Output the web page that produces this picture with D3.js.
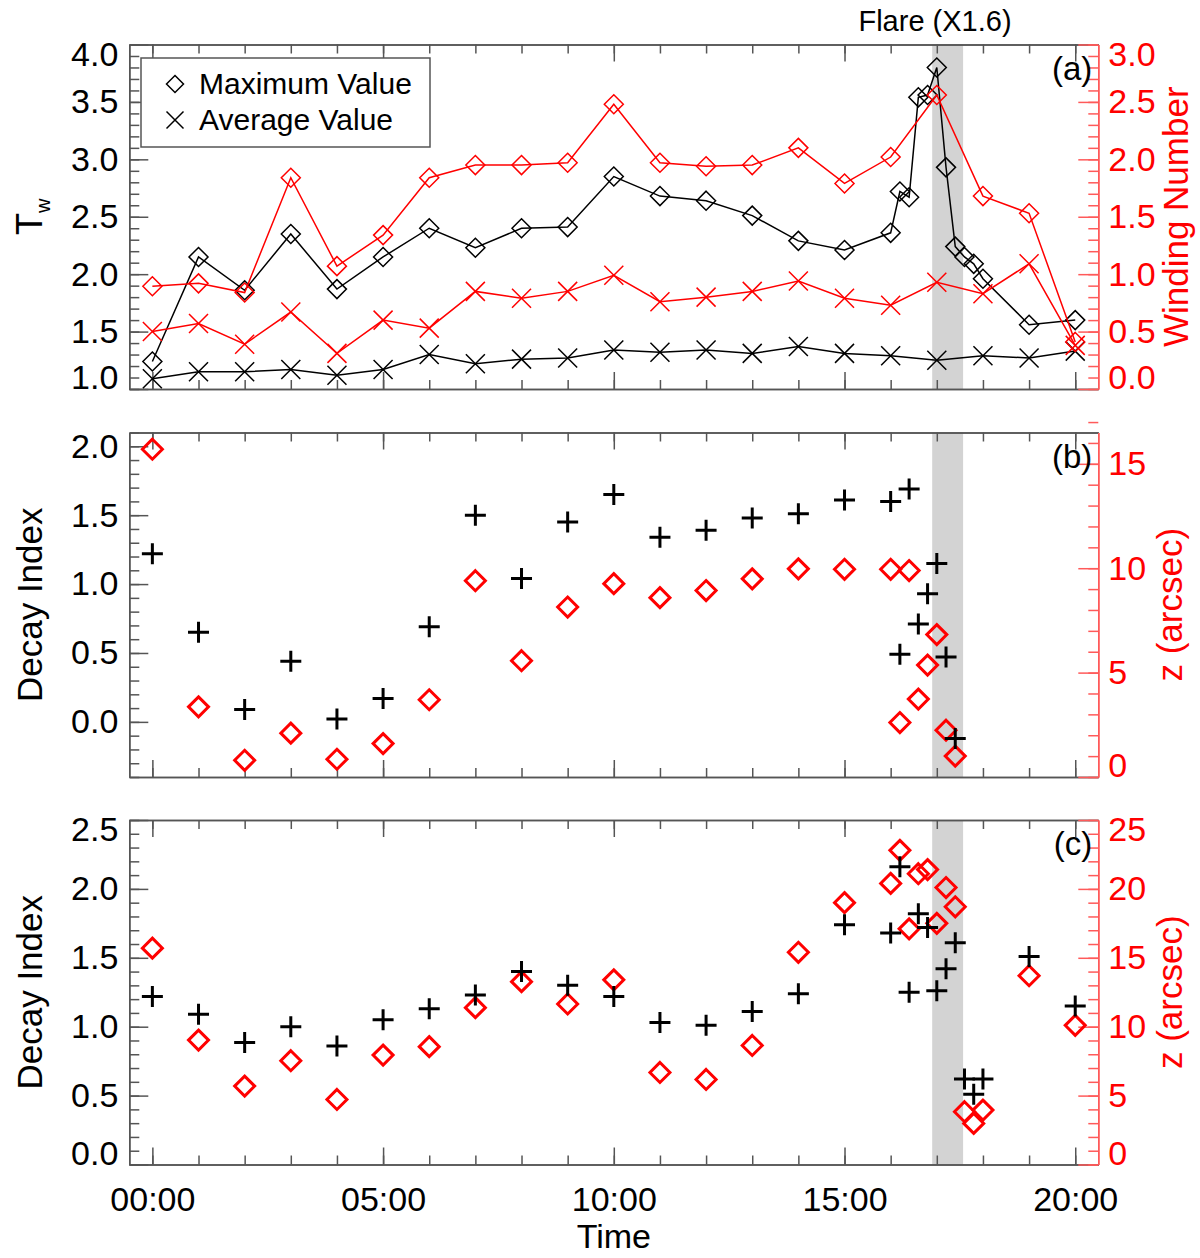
<!DOCTYPE html>
<html>
<head>
<meta charset="utf-8">
<script src="https://cdn.jsdelivr.net/npm/d3@7"></script>
<style>
  body { margin: 0; background: #fff; }
  svg text { font-family: "Liberation Sans", Arial, Helvetica, sans-serif; }
</style>
</head>
<body>
<script>
// ---- data ----
var hours = [0,1,2,3,4,5,6,7,8,9,10,11,12,13,14,15,16,17,18,19,20];

// (a) twist number (left) and winding number (right)
var twMaxTimes = [0,1,2,3,4,5,6,7,8,9,10,11,12,13,14,15,16,16.2,16.4,16.6,16.8,17,17.2,17.4,17.6,17.8,18,19,20];
var twMax = [1.24,2.15,1.86,2.35,1.87,2.15,2.40,2.23,2.40,2.41,2.85,2.68,2.64,2.51,2.29,2.21,2.36,
             2.72,2.67,3.54,3.56,3.80,2.93,2.24,2.15,2.09,1.96,1.56,1.60];
var twAvg = [1.09,1.15,1.15,1.17,1.12,1.17,1.30,1.22,1.26,1.27,1.34,1.32,1.34,1.31,1.37,1.31,1.29,1.25,1.29,1.27,1.33];
var windMax = [0.895,0.92,0.84,1.84,1.07,1.34,1.84,1.95,1.95,1.97,2.48,1.97,1.94,1.95,2.10,1.79,2.02,2.56,1.68,1.53,0.41];
var windAvg = [0.50,0.57,0.39,0.67,0.31,0.60,0.53,0.85,0.79,0.85,0.99,0.76,0.80,0.85,0.94,0.79,0.73,0.93,0.83,1.09,0.38];

// (b) decay index (left) and height z (right)
var bTimes = [0,1,2,3,4,5,6,7,8,9,10,11,12,13,14,15,16,16.2,16.4,16.6,16.8,17,17.2,17.4];
var bDecay = [1.22,0.65,0.09,0.44,0.02,0.17,0.69,1.50,1.04,1.45,1.65,1.34,1.39,1.48,1.51,1.61,1.60,
              0.49,1.69,0.71,0.93,1.15,0.47,-0.12];
var bHeight = [15.7,3.36,0.8,2.1,0.85,1.6,3.7,9.4,5.57,8.14,9.26,8.59,8.93,9.49,9.97,9.95,9.95,
               2.61,9.89,3.73,5.36,6.82,2.24,1.0];

// (c) decay index (left) and height z (right)
var cTimes = [0,1,2,3,4,5,6,7,8,9,10,11,12,13,14,15,16,16.2,16.4,16.6,16.8,17,17.2,17.4,17.6,17.8,18,19,20];
var cDecay = [1.22,1.09,0.886,1.00,0.86,1.05,1.13,1.23,1.40,1.30,1.22,1.03,1.01,1.11,1.24,1.74,1.68,
              2.16,1.25,1.82,1.72,1.26,1.42,1.61,0.62,0.51,0.62,1.51,1.15];
var cHeight = [15.7,9.03,5.69,7.53,4.72,7.94,8.55,11.38,13.27,11.65,13.4,6.68,6.17,8.64,15.4,19.0,20.4,
               22.8,17.1,21.1,21.4,17.5,20.1,18.7,3.83,2.98,3.95,13.7,10.1];

var timeTicks = [0,5,10,15,20];
var timeLabels = ['00:00','05:00','10:00','15:00','20:00'];
var flare = [16.9, 17.57];
var flareLabel = 'Flare (X1.6)';
var legendLabels = ['Maximum Value', 'Average Value'];

// ---- layout ----
var w = 1200, h = 1258;
var left = 129.3, right = 1098.3;
var panelH = 344.5;
var red = '#ff0000';
var redAxis = '#ff5a5a';
var axisGray = '#555555';
var font = '"Liberation Sans", Arial, Helvetica, sans-serif';

var svg = d3.select('body').append('svg')
            .attr('width', w)
            .attr('height', h);

var x = d3.scaleLinear().domain([-0.5, 20.5]).range([left, right]);

function steps(lo, hi, step) {
    var n = Math.round((hi - lo) / step);
    return d3.range(n + 1).map(function(i) { return +(lo + i * step).toFixed(4); });
}

function diamond(cx, cy, r) {
    return 'M' + cx + ',' + (cy - r) + 'L' + (cx + r) + ',' + cy + 'L' + cx + ',' + (cy + r) + 'L' + (cx - r) + ',' + cy + 'Z';
}
function times(cx, cy, r) {
    return 'M' + (cx - r) + ',' + (cy - r) + 'L' + (cx + r) + ',' + (cy + r) +
           'M' + (cx - r) + ',' + (cy + r) + 'L' + (cx + r) + ',' + (cy - r);
}
function plus(cx, cy, r) {
    return 'M' + (cx - r) + ',' + cy + 'L' + (cx + r) + ',' + cy + 'M' + cx + ',' + (cy - r) + 'L' + cx + ',' + (cy + r);
}

function styleAxis(g, color, textColor) {
    g.attr('font-size', 34).attr('font-family', font);
    g.select('.domain').attr('stroke', color).attr('stroke-width', 1.5);
    g.selectAll('.tick line').attr('stroke', color).attr('stroke-width', 1.5);
    g.selectAll('.tick text').attr('fill', textColor);
}

// pull the labels at the ends of an axis inward, as in the figure
function shiftEnds(g, scale) {
    var dom = scale.domain();
    g.selectAll('.tick text').attr('y', function(d) {
        if (d === dom[1]) return 10;
        if (d === dom[0]) return -11;
        return 0;
    });
}

var panels = [
    { top: 44.5, yL: [1, 4], yR: [0, 3], lMaj: 0.5, lMin: 0.1, rMaj: 0.5, rMin: 0.1,
      lFmt: '.1f', rFmt: '.1f', tag: '(a)', rTitle: 'Winding Number' },
    { top: 432.5, yL: [-0.4, 2.1], yR: [0, 16.5], lMaj: 0.5, lMin: 0.1, rMaj: 5, rMin: 1,
      lFmt: '.1f', rFmt: 'd', tag: '(b)', lTitle: 'Decay Index', rTitle: 'z (arcsec)' },
    { top: 820, yL: [0, 2.5], yR: [0, 25], lMaj: 0.5, lMin: 0.1, rMaj: 5, rMin: 1,
      lFmt: '.1f', rFmt: 'd', tag: '(c)', lTitle: 'Decay Index', rTitle: 'z (arcsec)' }
];

panels.forEach(function(p, i) {
    var top = p.top, bottom = p.top + panelH;
    p.yLeft = d3.scaleLinear().domain(p.yL).range([bottom, top]);
    p.yRight = d3.scaleLinear().domain(p.yR).range([bottom, top]);

    var g = svg.append('g');

    // flare interval
    g.append('rect')
        .attr('x', x(flare[0]))
        .attr('y', top)
        .attr('width', x(flare[1]) - x(flare[0]))
        .attr('height', panelH)
        .attr('fill', '#d3d3d3');

    // x axes, bottom and top, ticks pointing inward
    var isLast = (i === panels.length - 1);
    var xb = g.append('g').attr('transform', 'translate(0,' + bottom + ')')
        .call(d3.axisBottom(x).tickValues(hours).tickSize(-9).tickSizeOuter(0).tickFormat(''));
    styleAxis(xb, axisGray, '#000');
    var xbMaj = g.append('g').attr('transform', 'translate(0,' + bottom + ')')
        .call(d3.axisBottom(x).tickValues(timeTicks).tickSize(-17).tickSizeOuter(0).tickPadding(22)
              .tickFormat(function(d, k) { return isLast ? timeLabels[k] : ''; }));
    styleAxis(xbMaj, axisGray, '#000');
    var xt = g.append('g').attr('transform', 'translate(0,' + top + ')')
        .call(d3.axisTop(x).tickValues(hours).tickSize(-9).tickSizeOuter(0).tickFormat(''));
    styleAxis(xt, axisGray, '#000');
    var xtMaj = g.append('g').attr('transform', 'translate(0,' + top + ')')
        .call(d3.axisTop(x).tickValues(timeTicks).tickSize(-17).tickSizeOuter(0).tickFormat(''));
    styleAxis(xtMaj, axisGray, '#000');

    // left axis
    var lMinor = g.append('g').attr('transform', 'translate(' + left + ',0)')
        .call(d3.axisLeft(p.yLeft).tickValues(steps(p.yL[0], p.yL[1], p.lMin)).tickSize(-10).tickSizeOuter(0).tickFormat(''));
    styleAxis(lMinor, axisGray, '#000');
    var lMajTicks = steps(Math.ceil(p.yL[0] / p.lMaj) * p.lMaj, p.yL[1], p.lMaj);
    var lAxis = g.append('g').attr('transform', 'translate(' + left + ',0)')
        .call(d3.axisLeft(p.yLeft).tickValues(lMajTicks).tickSize(-19).tickSizeOuter(0).tickPadding(11)
              .tickFormat(d3.format(p.lFmt)));
    styleAxis(lAxis, axisGray, '#000');
    shiftEnds(lAxis, p.yLeft);

    // right axis (red)
    var rMinor = g.append('g').attr('transform', 'translate(' + right + ',0)')
        .call(d3.axisRight(p.yRight).tickValues(steps(p.yR[0], p.yR[1], p.rMin)).tickSize(-10).tickSizeOuter(0).tickFormat(''));
    styleAxis(rMinor, redAxis, red);
    var rMajTicks = steps(p.yR[0], Math.floor(p.yR[1] / p.rMaj) * p.rMaj, p.rMaj);
    var rAxis = g.append('g').attr('transform', 'translate(' + right + ',0)')
        .call(d3.axisRight(p.yRight).tickValues(rMajTicks).tickSize(-20).tickSizeOuter(0).tickPadding(10)
              .tickFormat(d3.format(p.rFmt)));
    styleAxis(rAxis, redAxis, red);
    shiftEnds(rAxis, p.yRight);

    // panel tag
    g.append('text')
        .attr('x', right - 6)
        .attr('y', top + 35)
        .attr('text-anchor', 'end')
        .attr('font-size', 33)
        .text(p.tag);

    // axis titles
    if (p.lTitle) {
        g.append('text')
            .attr('transform', 'translate(42,' + (top + panelH / 2) + ') rotate(-90)')
            .attr('text-anchor', 'middle')
            .attr('font-size', 35)
            .text(p.lTitle);
    }
    g.append('text')
        .attr('transform', 'translate(' + (i === 0 ? 1188 : 1182) + ',' + (top + panelH / 2) + ') rotate(-90)')
        .attr('text-anchor', 'middle')
        .attr('font-size', 35)
        .attr('fill', red)
        .text(p.rTitle);
});

// ---- panel (a) ----
var pa = panels[0];
var twLine = d3.line().x(function(d) { return x(d[0]); }).y(function(d) { return pa.yLeft(d[1]); });
var wnLine = d3.line().x(function(d) { return x(d[0]); }).y(function(d) { return pa.yRight(d[1]); });

var twMaxPts = d3.zip(twMaxTimes, twMax);
var twAvgPts = d3.zip(hours, twAvg);
var wnMaxPts = d3.zip(hours, windMax);
var wnAvgPts = d3.zip(hours, windAvg);

var ga = svg.append('g').attr('fill', 'none').attr('stroke-width', 1.5);

ga.append('path').attr('d', twLine(twMaxPts)).attr('stroke', '#000');
ga.append('path').attr('d', twLine(twAvgPts)).attr('stroke', '#000');
ga.selectAll('.twmax').data(twMaxPts).enter().append('path')
    .attr('d', function(d) { return diamond(x(d[0]), pa.yLeft(d[1]), 9.5); })
    .attr('stroke', '#000');
ga.selectAll('.twavg').data(twAvgPts).enter().append('path')
    .attr('d', function(d) { return times(x(d[0]), pa.yLeft(d[1]), 9.5); })
    .attr('stroke', '#000');

ga.append('path').attr('d', wnLine(wnMaxPts)).attr('stroke', red);
ga.append('path').attr('d', wnLine(wnAvgPts)).attr('stroke', red);
ga.selectAll('.wnmax').data(wnMaxPts).enter().append('path')
    .attr('d', function(d) { return diamond(x(d[0]), pa.yRight(d[1]), 9.5); })
    .attr('stroke', red);
ga.selectAll('.wnavg').data(wnAvgPts).enter().append('path')
    .attr('d', function(d) { return times(x(d[0]), pa.yRight(d[1]), 9.5); })
    .attr('stroke', red);

// T_w title
var tw = svg.append('text')
    .attr('transform', 'translate(42,' + (pa.top + panelH / 2) + ') rotate(-90)')
    .attr('text-anchor', 'middle')
    .attr('font-size', 36);
tw.append('tspan').text('T');
tw.append('tspan').attr('font-size', 20).attr('dy', 8).text('w');

// legend
var lg = svg.append('g');
lg.append('rect')
    .attr('x', 141).attr('y', 58)
    .attr('width', 289).attr('height', 89)
    .attr('fill', '#fff')
    .attr('stroke', axisGray)
    .attr('stroke-width', 1.5);
lg.append('path').attr('d', diamond(175, 84, 8.5)).attr('fill', 'none').attr('stroke', '#000').attr('stroke-width', 1.5);
lg.append('path').attr('d', times(175, 120, 8.5)).attr('fill', 'none').attr('stroke', '#000').attr('stroke-width', 1.5);
lg.append('text').attr('x', 199).attr('y', 94).attr('font-size', 30).text(legendLabels[0]);
lg.append('text').attr('x', 199).attr('y', 130).attr('font-size', 30).text(legendLabels[1]);

// flare label
svg.append('text')
    .attr('x', 935)
    .attr('y', 31)
    .attr('text-anchor', 'middle')
    .attr('font-size', 29)
    .text(flareLabel);

// ---- panels (b) and (c): scatter ----
function scatter(p, t, decay, height) {
    var g = svg.append('g').attr('fill', 'none');
    g.selectAll('.z').data(d3.zip(t, height)).enter().append('path')
        .attr('d', function(d) { return diamond(x(d[0]), p.yRight(d[1]), 10); })
        .attr('stroke', red)
        .attr('stroke-width', 3);
    g.selectAll('.n').data(d3.zip(t, decay)).enter().append('path')
        .attr('d', function(d) { return plus(x(d[0]), p.yLeft(d[1]), 10.5); })
        .attr('stroke', '#000')
        .attr('stroke-width', 3);
}
scatter(panels[1], bTimes, bDecay, bHeight);
scatter(panels[2], cTimes, cDecay, cHeight);

// x title
svg.append('text')
    .attr('x', (left + right) / 2)
    .attr('y', 1248)
    .attr('text-anchor', 'middle')
    .attr('font-size', 34)
    .text('Time');
</script>
</body>
</html>
